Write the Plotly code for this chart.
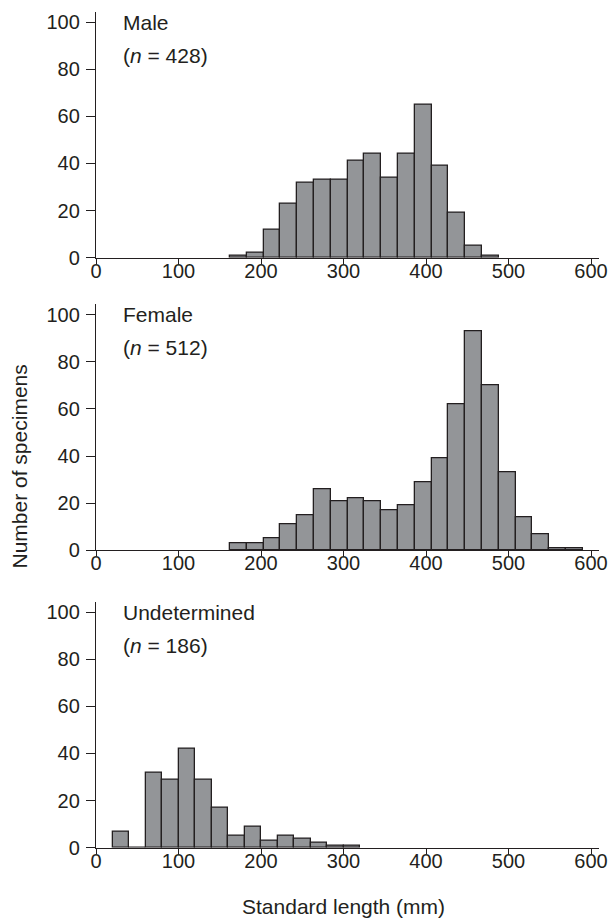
import plotly.graph_objects as go
from plotly.subplots import make_subplots

# ---- data ----
male_counts = [1, 2, 12, 23, 32, 33, 33, 41, 44, 34, 44, 65, 39, 19, 5, 1]
male_bin_start = 162.4
male_bin_width = 20.36

female_counts = [3, 3, 5, 11, 15, 26, 21, 22, 21, 17, 19, 29, 39, 62, 93, 70, 33, 14, 7, 1, 1]
female_bin_start = 162.4
female_bin_width = 20.36

undet_counts = [7, 0, 32, 29, 42, 29, 17, 5, 9, 3, 5, 4, 2, 1, 1]
undet_bin_start = 20
undet_bin_width = 20

panel_names = ["Male", "Female", "Undetermined"]
panel_n = [428, 512, 186]
x_ticks = [0, 100, 200, 300, 400, 500, 600]
y_ticks = [0, 20, 40, 60, 80, 100]

FONT = "Liberation Sans, Arial, sans-serif"
INK = "#231f20"
FILL = "#939598"
W, H = 609, 920

fig = make_subplots(rows=3, cols=1)

series = [
    (male_counts, male_bin_start, male_bin_width),
    (female_counts, female_bin_start, female_bin_width),
    (undet_counts, undet_bin_start, undet_bin_width),
]

for i, (counts, start, width) in enumerate(series):
    centers = [start + width * (k + 0.5) for k in range(len(counts))]
    fig.add_trace(
        go.Bar(
            x=centers,
            y=counts,
            width=[width] * len(counts),
            marker=dict(color=FILL, line=dict(color=INK, width=1.3)),
            showlegend=False,
        ),
        row=i + 1,
        col=1,
    )


def px_x(p):
    return p / W


def px_y(p):
    return 1 - p / H


# layout in reference pixels (from the top-left of the page)
x_left, x_right = 96, 599.3
zero_px = [257.7, 550.3, 847.7]
top_px = [11.7, 304.3, 601.7]
y_max = 104.4
x_max = 610

for i in range(3):
    sx = "" if i == 0 else str(i + 1)
    fig.layout["xaxis" + sx].update(
        domain=[px_x(x_left), px_x(x_right)],
        range=[0, x_max],
        automargin=False,
        tickmode="array",
        tickvals=x_ticks,
        ticks="outside",
        ticklen=5,
        tickwidth=1.2,
        tickcolor=INK,
        ticklabelstandoff=-10,
        showline=True,
        linecolor=INK,
        linewidth=1.3,
        showgrid=False,
        zeroline=False,
        tickfont=dict(family=FONT, size=20, color=INK),
    )
    fig.layout["yaxis" + sx].update(
        domain=[px_y(zero_px[i]), px_y(top_px[i])],
        range=[0, y_max],
        automargin=False,
        tickmode="array",
        tickvals=y_ticks,
        ticks="outside",
        ticklen=9,
        tickwidth=1.2,
        tickcolor=INK,
        ticklabelstandoff=2,
        showline=True,
        linecolor=INK,
        linewidth=1.3,
        showgrid=False,
        zeroline=False,
        tickfont=dict(family=FONT, size=20, color=INK),
    )

annotations = []
for i in range(3):
    y100 = zero_px[i] - (zero_px[i] - top_px[i]) * 100 / y_max
    annotations.append(dict(
        text=panel_names[i], x=px_x(121), y=px_y(y100 + 0),
        xref="paper", yref="paper", xanchor="left", yanchor="middle",
        showarrow=False, font=dict(family=FONT, size=21, color=INK),
    ))
    annotations.append(dict(
        text="(<i>n</i> = %d)" % panel_n[i], x=px_x(121), y=px_y(y100 + 33),
        xref="paper", yref="paper", xanchor="left", yanchor="middle",
        showarrow=False, font=dict(family=FONT, size=21, color=INK),
    ))

annotations.append(dict(
    text="Standard length (mm)", x=px_x(343.6), y=px_y(906),
    xref="paper", yref="paper", xanchor="center", yanchor="middle",
    showarrow=False, font=dict(family=FONT, size=21, color=INK),
))
annotations.append(dict(
    text="Number of specimens", x=px_x(19), y=px_y(466.5),
    xref="paper", yref="paper", xanchor="center", yanchor="middle",
    textangle=-90, showarrow=False, font=dict(family=FONT, size=21, color=INK),
))

fig.update_layout(
    width=W,
    height=H,
    margin=dict(l=0, r=0, t=0, b=0),
    plot_bgcolor="white",
    paper_bgcolor="white",
    bargap=0,
    annotations=annotations,
)

fig.write_html(
    "out.html",
    config={"displayModeBar": False},
    post_script="document.body.style.margin='0';document.body.style.overflow='hidden';",
)
